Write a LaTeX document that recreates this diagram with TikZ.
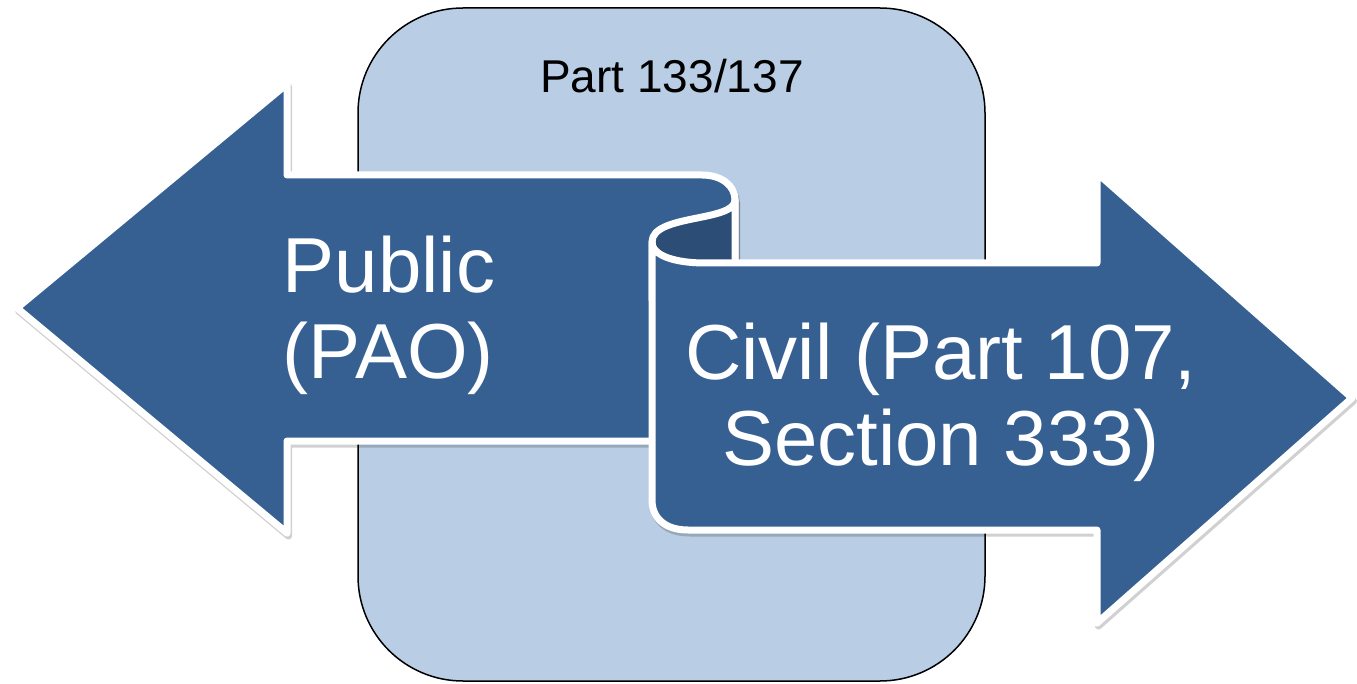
\documentclass[tikz,border=0pt]{standalone}
\usepackage{fontspec}
\setmainfont{Liberation Sans}
\definecolor{arrowblue}{RGB}{55,96,146}
\definecolor{curlblue}{RGB}{44,77,118}
\definecolor{boxblue}{RGB}{185,205,229}
\begin{document}
\begin{tikzpicture}[x=1pt,y=-1pt, line join=round, line cap=round,
	ribbon/.style={fill=arrowblue, draw=white, line width=7pt,
		preaction={draw=black, line width=7pt, opacity=0.18,
			transform canvas={xshift=1.5pt,yshift=-3pt}}},
	bigtext/.style={text=white, inner sep=0pt, font=\fontsize{78}{86}\selectfont}]
	\useasboundingbox (0,0) rectangle (1357,684);
	\def\ht{175} \def\hb{441} % left shaft
	\def\rt{263} \def\rb{530} % right shaft
	% middle box
	\draw[fill=boxblue, line width=1.5pt, rounded corners=105pt] (358,8) rectangle (985,681);
	\node (part) at (672,93) [anchor=base, inner sep=0pt, font=\fontsize{46}{50}\selectfont] {Part 133/137};
	% left arrow, rolled at its right end
	\draw[ribbon] (17,308) -- (287,84) -- (287,\ht) -- (702,\ht)
		.. controls (722,\ht) and (735,186) .. (735,200) -- (735,\hb)
		-- (287,\hb) -- (287,533) -- cycle;
	\draw[ribbon, fill=curlblue] (735,200) .. controls (735,222) and (652,214) .. (652,242)
		-- (652,300) -- (735,300) -- cycle;
	% right arrow
	\draw[ribbon] (652,242) .. controls (652,256) and (676,\rt) .. (705,\rt)
		-- (1097,\rt) -- (1097,173) -- (1352,398) -- (1097,623) -- (1097,\rb)
		-- (688,\rb) .. controls (665,\rb) and (652,518) .. (652,500) -- cycle;
	\node (public) at (389,387) [bigtext, align=left] {Public\\(PAO)};
	\node (civil) at (941,474) [bigtext, align=center] {Civil (Part 107,\\Section 333)};
\end{tikzpicture}
\end{document}
